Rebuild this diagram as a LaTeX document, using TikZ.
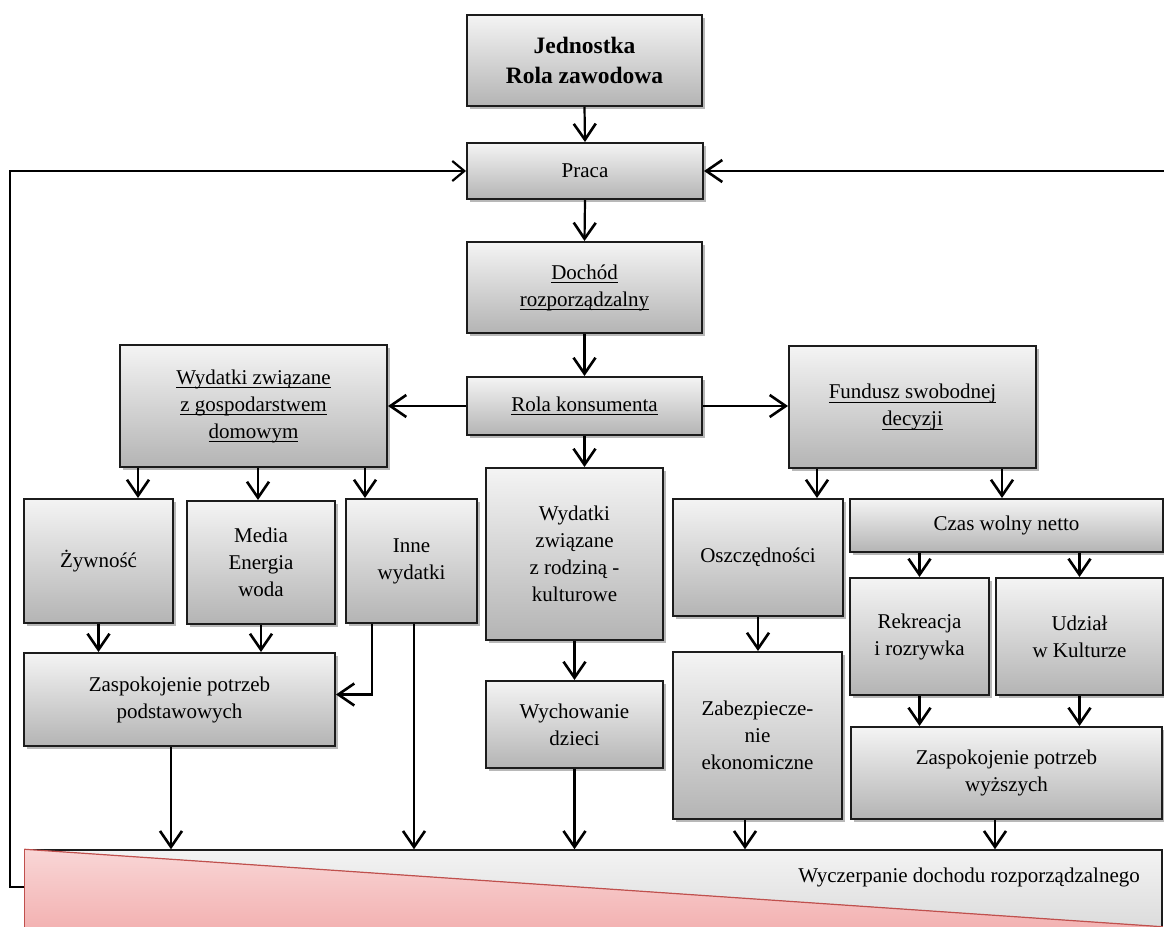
\documentclass[tikz,border=0pt]{standalone}
\usepackage{fontspec}
\IfFontExistsTF{LiberationSerif-Regular.ttf}
  {\setmainfont{LiberationSerif}[Extension=.ttf, UprightFont=*-Regular, BoldFont=*-Bold, ItalicFont=*-Italic, BoldItalicFont=*-BoldItalic]}
  {\setmainfont{Liberation Serif}}
\usetikzlibrary{arrows.meta,shadows,calc}
\definecolor{boxtop}{HTML}{F4F4F4}
\definecolor{boxbot}{HTML}{B4B4B4}
\definecolor{edge}{HTML}{1C1C1C}
\definecolor{bartop}{HTML}{F3F3F3}
\definecolor{barbot}{HTML}{D2D2D2}
\definecolor{pinktop}{HTML}{F9D6D6}
\definecolor{pinkbot}{HTML}{F0A3A3}
\definecolor{redline}{HTML}{C0504D}
% underline set just below the baseline, through the descenders
\newsavebox\ulinebox
\newcommand\ulx[1]{\leavevmode\sbox\ulinebox{#1}\rlap{\rule[-4.4pt]{\wd\ulinebox}{1.2pt}}\usebox\ulinebox}
\begin{document}
\begin{tikzpicture}[x=1pt,y=-1pt,
  txt/.style={font=\rmfamily\fontsize{21}{27}\selectfont},
  box/.style={txt, draw=edge, line width=2pt, top color=boxtop, bottom color=boxbot,
    align=center, inner sep=2pt,
    drop shadow={shadow xshift=2.5pt, shadow yshift=-3pt, opacity=0.28, fill=black}},
  sz/.style 2 args={minimum width=#1pt, minimum height=#2pt},
  barbox/.style={draw=edge, line width=1.5pt, top color=bartop, bottom color=barbot},
  arr/.style={line width=2.2pt, draw=black, -{Straight Barb[length=16pt,width=22pt,line width=2.6pt]}},
  loopl/.style={line width=1.6pt, draw=black, -{Straight Barb[length=12pt,width=20pt,line width=2.2pt]}}]
\useasboundingbox (0,0) rectangle (1164,926);
\clip (0,0) rectangle (1164,926);

% central column
\node[box, sz={235}{91}, font=\rmfamily\fontsize{23.5}{30}\selectfont\bfseries] (jed) at (584.5,60.5) {Jednostka\\Rola zawodowa};
\node[box, sz={236}{56}] (praca) at (585,171) {Praca};
\node[box, sz={235}{91}] (doch) at (584.5,287.5) {\ulx{Dochód}\\\ulx{rozporządzalny}};
\node[box, sz={235}{58}] (rola) at (584.5,406) {\ulx{Rola konsumenta}};

% household spending branch
\node[box, sz={267}{122}] (wgd) at (253.5,406) {\ulx{Wydatki związane}\\\ulx{z gospodarstwem}\\\ulx{domowym}};
\node[box, sz={149}{124}] (zyw) at (98.5,561) {Żywność};
\node[box, sz={148}{123}] (med) at (261,562.5) {Media\\Energia\\woda};
\node[box, sz={131}{124}] (inne) at (411.5,561) {Inne\\wydatki};
\node[box, sz={311}{93}] (zpod) at (179.5,699.5) {Zaspokojenie potrzeb\\podstawowych};

% family branch
\node[box, sz={177}{172}] (wrodz) at (574.5,554) {Wydatki\\związane\\z rodziną -\\kulturowe};
\node[box, sz={177}{87}] (wych) at (574.5,724.5) {Wychowanie\\dzieci};

% free-decision branch
\node[box, sz={247}{122}] (fund) at (912.5,407) {\ulx{Fundusz swobodnej}\\\ulx{decyzji}};
\node[box, sz={170}{117}] (osz) at (758,557.5) {Oszczędności};
\node[box, sz={169}{167}] (zab) at (757.5,735.5) {Zabezpiecze-\\nie\\ekonomiczne};
\node[box, sz={313}{53}] (czas) at (1006.5,525.5) {Czas wolny netto};
\node[box, sz={139}{117}] (rek) at (919.5,636.5) {Rekreacja\\i rozrywka};
\node[box, sz={167}{117}] (udz) at (1079.5,636.5) {Udział\\w Kulturze};
\node[box, sz={311}{92}] (zwyz) at (1006.5,773) {Zaspokojenie potrzeb\\wyższych};

% bottom bar with the red wedge
\node[barbox, sz={1137}{110}] (bar) at (593.5,905) {};
\coordinate (wedge) at ($(bar.north east)+(0,77.5)$);
\fill[top color=pinktop, bottom color=pinkbot] (bar.north west) -- (wedge) -- (bar.south east) -- (bar.south west) -- cycle;
\draw[redline, line width=1.2pt] (bar.north west) -- (wedge);
\draw[redline, line width=1.5pt] (bar.north west) -- (bar.south west);
\node[txt, anchor=base east, inner sep=0pt] (wyc) at (1140,882) {Wyczerpanie dochodu rozporządzalnego};

% main vertical flow
\draw[arr] (jed.south) -- (praca.north);
\draw[arr] (praca.south) -- (doch.north);
\draw[arr] (doch.south) -- (rola.north);
\draw[arr] (rola.west) -- (rola.west -| wgd.east);
\draw[arr] (rola.east) -- (rola.east -| fund.west);
\draw[arr] (rola.south) -- (rola.south |- wrodz.north);

% household spending
\coordinate (g1) at ([xshift=19pt]wgd.south west);
\coordinate (g2) at ([xshift=139pt]wgd.south west);
\coordinate (g3) at ([xshift=246pt]wgd.south west);
\draw[arr] (g1) -- (g1 |- zyw.north);
\draw[arr] (g2) -- (g2 |- med.north);
\draw[arr] (g3) -- (g3 |- inne.north);
\draw[arr] (zyw.south) -- (zyw.south |- zpod.north);
\draw[arr] (med.south) -- (med.south |- zpod.north);
\coordinate (i1) at ([xshift=27pt]inne.south west);
\coordinate (i2) at ([xshift=69pt]inne.south west);
\draw[arr] (i1) |- ([yshift=5pt]zpod.east);
\draw[arr] (i2) -- (i2 |- bar.north);
\coordinate (p1) at ([xshift=148pt]zpod.south west);
\draw[arr] (p1) -- (p1 |- bar.north);

% family
\draw[arr] (wrodz.south) -- (wych.north);
\draw[arr] (wych.south) -- (wych.south |- bar.north);

% free-decision fund
\coordinate (f1) at ([xshift=29pt]fund.south west);
\coordinate (f2) at ([xshift=214pt]fund.south west);
\draw[arr] (f1) -- (f1 |- osz.north);
\draw[arr] (f2) -- (f2 |- czas.north);
\draw[arr] (osz.south) -- (osz.south |- zab.north);
\draw[arr] (czas.south -| rek.north) -- (rek.north);
\draw[arr] (czas.south -| udz.north) -- (udz.north);
\draw[arr] (rek.south) -- (rek.south |- zwyz.north);
\draw[arr] (udz.south) -- (udz.south |- zwyz.north);
\coordinate (z1) at ([xshift=73pt]zab.south west);
\coordinate (z2) at ([xshift=145pt]zwyz.south west);
\draw[arr] (z1) -- (z1 |- bar.north);
\draw[arr] (z2) -- (z2 |- bar.north);

% feedback loops into work
\draw[loopl] ([yshift=18pt]bar.west) -- ++(-14,0) |- (praca.west);
\coordinate (rin) at (1170,171);
\draw[arr] (rin) -- (praca.east);
\end{tikzpicture}
\end{document}
